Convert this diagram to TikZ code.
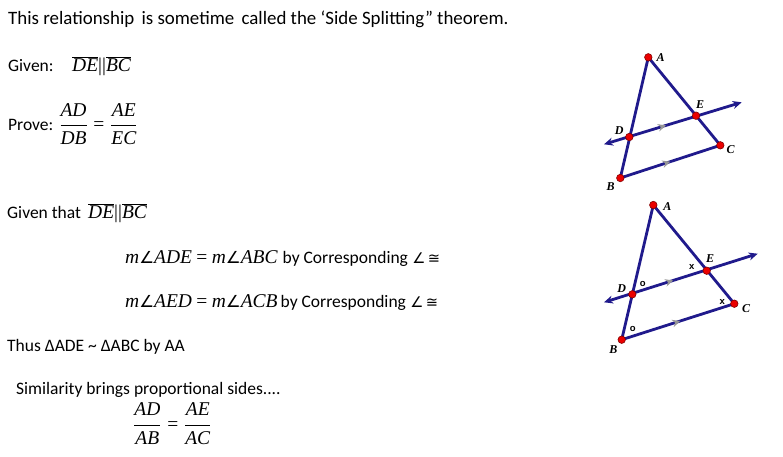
\documentclass[tikz,border=0pt]{standalone}
\usepackage{fontspec}
\setmainfont{Carlito}
\newfontfamily\tms{Liberation Serif}
\newfontfamily\arl{Liberation Sans}
\newfontfamily\sym{DejaVu Sans}
\usetikzlibrary{arrows.meta,decorations.markings}

\definecolor{navy}{RGB}{32,26,140}
\definecolor{dotred}{RGB}{235,0,0}
\definecolor{dotedge}{RGB}{130,0,0}
\definecolor{markgrey}{RGB}{150,150,150}

\newcommand\tmsi[1]{{\tms\itshape #1}}
\newcommand\seg[1]{$\overline{\hbox{\tms\itshape #1}}$}
\newcommand\angsym{{\sym\scalebox{0.85}{∠}}}
\newcommand\congsym{{\sym\scalebox{0.75}{∠\,≅}}}
\newcommand\ratio[4]{$\displaystyle\frac{\hbox{\tmsi{#1}}}{\hbox{\tmsi{#2}}}\mathrel{\hbox{\tms =}}\frac{\hbox{\tmsi{#3}}}{\hbox{\tmsi{#4}}}$}

\tikzset{txt/.style={anchor=base west,inner sep=0pt,font=\fontsize{17.5}{21}\selectfont},
mth/.style={anchor=base west,inner sep=0pt,font=\fontsize{19.5}{23}\selectfont},
side/.style={line width=2.8pt,draw=navy},
ray/.style={side,{Stealth[length=9pt,width=8pt]}-{Stealth[length=9pt,width=8pt]}},
midarrow/.style={postaction={decorate,decoration={markings,mark=at position #1 with {\arrow[markgrey]{Stealth[length=8pt,width=7.5pt]}}}}},
vtx/.style={circle,fill=dotred,draw=dotedge,line width=0.6pt,minimum size=7.5pt,inner sep=0pt},
vlabel/.style={font=\fontsize{12}{14}\selectfont\tms\bfseries\itshape,inner sep=0pt},
anglemark/.style={font=\fontsize{9.5}{11}\selectfont\arl\bfseries,inner sep=0pt}}

\begin{document}
\begin{tikzpicture}[x=1pt,y=-1pt]
\useasboundingbox (0,0) rectangle (783,456);

%% statement
\node [txt,font=\fontsize{18.9}{22}\selectfont] (title) at (8,24) {This relationship\hspace{3pt} is sometime\hspace{3pt} called the ‘Side Splitting” theorem.};
\node [txt] (given) at (8,71.7) {Given:};
\node [mth] (givenseg) at (72,71.7) {\seg{DE}{\tms||}\seg{BC}};
\node [txt,font=\fontsize{19.5}{23}\selectfont] (prove) at (8,130.7) {{\fontsize{17.5}{21}\selectfont Prove:}\hspace{6pt}\ratio{AD}{DB}{AE}{EC}};

%% proof
\node [txt] (givenb) at (7,218.3) {Given that};
\node [mth] (givenbseg) at (88,218.3) {\seg{DE}{\tms||}\seg{BC}};
\node [mth] (step1) at (125,263.3) {\tmsi{m}\angsym\tmsi{ADE} {\tms =} \tmsi{m}\angsym\tmsi{ABC}\hspace{5pt}{\fontsize{17.5}{21}\selectfont by Corresponding} \congsym};
\node [mth] (step2) at (125,307.3) {\tmsi{m}\angsym\tmsi{AED} {\tms =} \tmsi{m}\angsym\tmsi{ACB}\hspace{3pt}{\fontsize{17.5}{21}\selectfont by Corresponding} \congsym};
\node [txt] (thus) at (7,351.7) {Thus ΔADE \textasciitilde{} ΔABC by AA};
\node [txt] (sim) at (16,394.3) {Similarity brings proportional sides....};
\node [mth] (simratio) at (133,430) {\ratio{AD}{AB}{AE}{AC}};

%% first figure
\coordinate (A1) at (648.3,57.3);
\coordinate (B1) at (620.3,178);
\coordinate (C1) at (720.3,145.3);
\coordinate (D1) at (629.3,137);
\coordinate (E1) at (696,115.7);
\coordinate (L1) at (604,144.3);
\coordinate (R1) at (741.7,102.3);

\draw [side] (B1) -- (A1) -- (C1);
\draw [side,midarrow=0.5] (B1) -- (C1);
\draw [ray,midarrow=0.45] (L1) -- (R1);

\node [vtx] (dA1) at (A1) {};
\node [vtx] (dB1) at (B1) {};
\node [vtx] (dC1) at (C1) {};
\node [vtx] (dD1) at (D1) {};
\node [vtx] (dE1) at (E1) {};

\node [vlabel] (lA1) at (660.7,57.3) {A};
\node [vlabel] (lB1) at (610.7,186.7) {B};
\node [vlabel] (lC1) at (730.7,150) {C};
\node [vlabel] (lD1) at (619.3,131) {D};
\node [vlabel] (lE1) at (700,104.3) {E};

%% second figure
\coordinate (A2) at (653.3,205);
\coordinate (B2) at (621.7,339.7);
\coordinate (C2) at (734.3,303.7);
\coordinate (D2) at (632.3,294.3);
\coordinate (E2) at (706.7,270.7);
\coordinate (L2) at (604,302.3);
\coordinate (R2) at (757.7,253.7);

\draw [side] (B2) -- (A2) -- (C2);
\draw [side,midarrow=0.52] (B2) -- (C2);
\draw [ray,midarrow=0.45] (L2) -- (R2);

\node [vtx] (dA2) at (A2) {};
\node [vtx] (dB2) at (B2) {};
\node [vtx] (dC2) at (C2) {};
\node [vtx] (dD2) at (D2) {};
\node [vtx] (dE2) at (E2) {};

\node [vlabel] (lA2) at (667.3,206.7) {A};
\node [vlabel] (lB2) at (613.3,350) {B};
\node [vlabel] (lC2) at (746,308.3) {C};
\node [vlabel] (lD2) at (621.7,288.3) {D};
\node [vlabel] (lE2) at (710,258.3) {E};

\node [anglemark] (xE2) at (691.7,266.7) {x};
\node [anglemark] (oD2) at (642.7,284.3) {o};
\node [anglemark] (xC2) at (722.3,301.7) {x};
\node [anglemark] (oB2) at (632.7,329.3) {o};

\end{tikzpicture}
\end{document}
